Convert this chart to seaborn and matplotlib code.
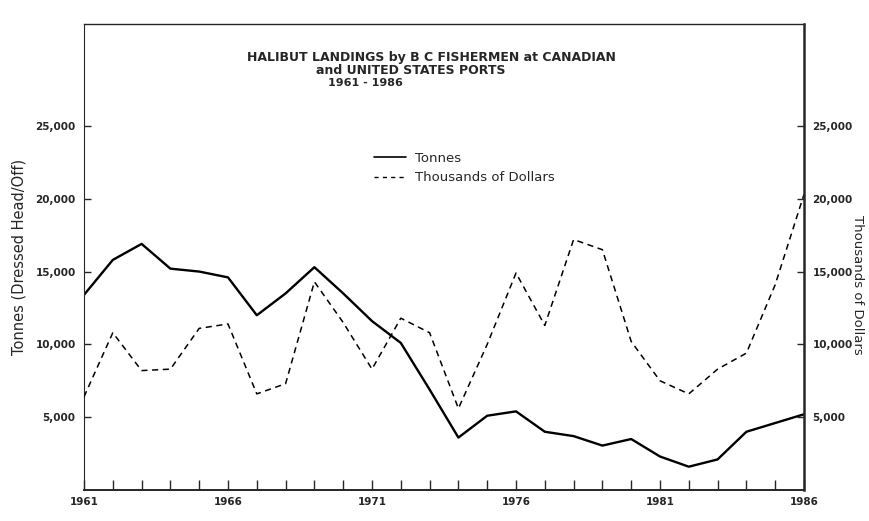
import matplotlib
matplotlib.use("Agg")
import matplotlib.pyplot as plt
import seaborn as sns
import pandas as pd
from matplotlib.lines import Line2D
from matplotlib.ticker import FuncFormatter

# values
years = list(range(1961, 1987))
tonnes = [13400, 15800, 16900, 15200, 15000, 14600, 12000, 13500, 15300, 13500,
          11600, 10100, 6900, 3600, 5100, 5400, 4000, 3700, 3050, 3500,
          2300, 1600, 2100, 4000, 4600, 5200]
dollars = [6400, 10800, 8200, 8300, 11100, 11400, 6600, 7300, 14300, 11500,
           8300, 11800, 10800, 5600, 10000, 14900, 11300, 17200, 16500, 10200,
           7500, 6600, 8300, 9400, 14100, 20300]
y_ticks = [5000, 10000, 15000, 20000, 25000]
x_labels = [1961, 1966, 1971, 1976, 1981, 1986]

title_lines = ["HALIBUT LANDINGS by B C FISHERMEN at CANADIAN",
               "and UNITED STATES PORTS",
               "1961 - 1986"]

df = pd.DataFrame({"Year": years, "Tonnes": tonnes, "Dollars": dollars})

sns.set_style("ticks")
plt.rcParams["font.family"] = ["DejaVu Sans"]

fig = plt.figure(figsize=(8.69, 5.21), dpi=100)
ax = fig.add_axes([84 / 869, 31 / 521, 720 / 869, 466 / 521])
ax2 = ax.twinx()

sns.lineplot(data=df, x="Year", y="Tonnes", ax=ax, color="black", linewidth=1.7)
sns.lineplot(data=df, x="Year", y="Dollars", ax=ax2, color="black", linewidth=1.1)
ax2.lines[0].set_dashes([4, 3])

for a in (ax, ax2):
    a.set_ylim(0, 32000)
    a.set_xlim(1961, 1986)
    a.set_yticks(y_ticks)
    a.yaxis.set_major_formatter(FuncFormatter(lambda v, p: f"{int(v):,}"))
    a.tick_params(axis="y", direction="in", length=5, width=1, labelsize=7.5, pad=6)
    for lab in a.get_yticklabels():
        lab.set_fontweight("bold")

ax.set_xticks(years)
ax.set_xticklabels([str(y) if y in x_labels else "" for y in years],
                   fontsize=7.5, fontweight="bold")
ax.tick_params(axis="x", direction="in", length=7, width=1, pad=5)

ax.spines["left"].set_linewidth(0.8)
ax.spines["top"].set_linewidth(1.0)
ax.spines["bottom"].set_linewidth(1.4)
ax2.spines["right"].set_linewidth(1.8)
for s in ("left", "top", "bottom", "right"):
    ax2.spines[s].set_visible(s == "right")
ax.spines["right"].set_visible(False)

ax.set_xlabel("")
ax.set_ylabel("Tonnes (Dressed Head/Off)", fontsize=10.5, va="center")
ax.yaxis.set_label_coords(-0.090, 0.5)
ax2.set_ylabel("Thousands of Dollars", fontsize=9.5, rotation=270, va="center")
ax2.yaxis.set_label_coords(1.075, 0.44)

# title block drawn inside the frame
fig.text(0.497, 1 - 57 / 521, title_lines[0], ha="center", va="center",
         fontsize=9, fontweight="bold")
fig.text(0.473, 1 - 70 / 521, title_lines[1], ha="center", va="center",
         fontsize=9, fontweight="bold")
fig.text(0.42, 1 - 83 / 521, title_lines[2], ha="center", va="center",
         fontsize=8, fontweight="bold")

handles = [Line2D([], [], color="black", linewidth=1.2),
           Line2D([], [], color="black", linewidth=1.0, dashes=[3, 3])]
fig.legend(handles, ["Tonnes", "Thousands of Dollars"],
           loc="upper left", bbox_to_anchor=(362 / 869, 1 - 140 / 521),
           frameon=False, fontsize=9.5, handlelength=2.4, labelspacing=0.5,
           handletextpad=0.7)

fig.savefig("out.png", dpi=100)
